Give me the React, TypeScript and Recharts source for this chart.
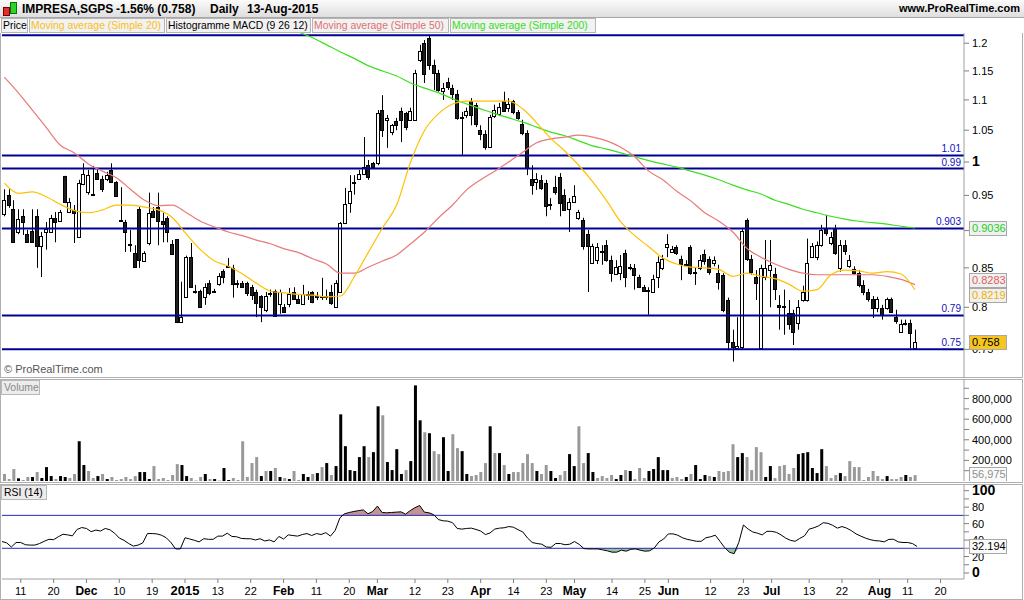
import React from 'react'
import { ComposedChart, Bar, Line, Area, XAxis, YAxis, ReferenceLine, Cell } from 'recharts'

const FONT = '"Liberation Sans", Arial, sans-serif'

// trading sessions on the time axis; the last ten (after 13 Aug) stay empty
const sessionDays: [string, number[]][] = [
  ['2014-11', [5, 6, 7, 10, 11, 12, 13, 14, 17, 18, 19, 20, 21, 24, 25, 26, 27, 28]],
  ['2014-12', [1, 2, 3, 4, 5, 8, 9, 10, 11, 12, 15, 16, 17, 18, 19, 22, 23, 24, 29, 30, 31]],
  ['2015-01', [2, 5, 6, 7, 8, 9, 12, 13, 14, 15, 16, 19, 20, 21, 22, 23, 26, 27, 28, 29, 30]],
  ['2015-02', [2, 3, 4, 5, 6, 9, 10, 11, 12, 13, 16, 17, 18, 19, 20, 23, 24, 25, 26, 27]],
  ['2015-03', [2, 3, 4, 5, 6, 9, 10, 11, 12, 13, 16, 17, 18, 19, 20, 23, 24, 25, 26, 27, 30, 31]],
  ['2015-04', [1, 2, 7, 8, 9, 10, 13, 14, 15, 16, 17, 20, 21, 22, 23, 24, 27, 28, 29, 30]],
  ['2015-05', [4, 5, 6, 7, 8, 11, 12, 13, 14, 15, 18, 19, 20, 21, 22, 25, 26, 27, 28, 29]],
  ['2015-06', [1, 2, 3, 4, 5, 8, 9, 10, 11, 12, 15, 16, 17, 18, 19, 22, 23, 24, 25, 26, 29, 30]],
  ['2015-07', [1, 2, 3, 6, 7, 8, 9, 10, 13, 14, 15, 16, 17, 20, 21, 22, 23, 24, 27, 28, 29, 30, 31]],
  ['2015-08', [3, 4, 5, 6, 7, 10, 11, 12, 13, 14, 17, 18, 19, 20, 21, 24, 25, 26, 27]],
]

const timeTicks: [string, string][] = [
  ['2014-11-11', '11'], ['2014-11-20', '20'], ['2014-12-01', 'Dec'], ['2014-12-10', '10'], ['2014-12-19', '19'],
  ['2015-01-02', '2015'], ['2015-01-13', '13'], ['2015-01-22', '22'], ['2015-02-02', 'Feb'], ['2015-02-11', '11'],
  ['2015-02-20', '20'], ['2015-03-02', 'Mar'], ['2015-03-12', '12'], ['2015-03-23', '23'], ['2015-04-01', 'Apr'],
  ['2015-04-14', '14'], ['2015-04-23', '23'], ['2015-05-04', 'May'], ['2015-05-14', '14'], ['2015-05-25', '25'],
  ['2015-06-01', 'Jun'], ['2015-06-12', '12'], ['2015-06-23', '23'], ['2015-07-01', 'Jul'], ['2015-07-13', '13'],
  ['2015-07-22', '22'], ['2015-08-03', 'Aug'], ['2015-08-11', '11'], ['2015-08-20', '20'],
]

// open, high, low, close
const candles: number[][] = [
  // Nov 2014
  [0.923, 0.959, 0.920, 0.943], [0.951, 0.959, 0.932, 0.936], [0.930, 0.943, 0.883, 0.884], [0.898, 0.930, 0.895, 0.916],
  [0.920, 0.930, 0.894, 0.911], [0.895, 0.901, 0.883, 0.884], [0.899, 0.930, 0.883, 0.884], [0.920, 0.930, 0.850, 0.879],
  [0.880, 0.898, 0.838, 0.893], [0.898, 0.912, 0.874, 0.902], [0.899, 0.922, 0.897, 0.918], [0.918, 0.926, 0.884, 0.913],
  [0.913, 0.929, 0.912, 0.926], [0.979, 0.979, 0.939, 0.940], [0.926, 0.946, 0.925, 0.940], [0.929, 0.936, 0.883, 0.925],
  [0.891, 0.973, 0.890, 0.968], [0.967, 0.998, 0.965, 0.982],
  // Dec
  [0.955, 0.988, 0.951, 0.980], [0.952, 0.994, 0.951, 0.951], [0.983, 0.991, 0.973, 0.974], [0.974, 0.979, 0.955, 0.959],
  [0.974, 0.985, 0.971, 0.980], [0.988, 0.998, 0.970, 0.970], [0.970, 0.971, 0.949, 0.949], [0.915, 0.962, 0.912, 0.913],
  [0.912, 0.915, 0.871, 0.898], [0.882, 0.901, 0.871, 0.880], [0.870, 0.880, 0.852, 0.852], [0.930, 0.933, 0.850, 0.860],
  [0.860, 0.872, 0.858, 0.870], [0.884, 0.954, 0.880, 0.925], [0.928, 0.933, 0.918, 0.919], [0.933, 0.954, 0.880, 0.913],
  [0.913, 0.925, 0.884, 0.909], [0.918, 0.920, 0.884, 0.898], [0.882, 0.887, 0.867, 0.868], [0.888, 0.888, 0.782, 0.782],
  [0.782, 0.832, 0.782, 0.788],
  // Jan 2015
  [0.812, 0.866, 0.812, 0.864], [0.864, 0.883, 0.825, 0.825], [0.820, 0.828, 0.817, 0.819], [0.820, 0.822, 0.800, 0.800],
  [0.813, 0.830, 0.803, 0.825], [0.830, 0.834, 0.815, 0.817], [0.820, 0.823, 0.818, 0.819], [0.829, 0.843, 0.827, 0.839],
  [0.846, 0.848, 0.830, 0.838], [0.851, 0.863, 0.850, 0.852], [0.850, 0.854, 0.812, 0.830], [0.830, 0.834, 0.824, 0.829],
  [0.830, 0.833, 0.824, 0.825], [0.830, 0.832, 0.814, 0.817], [0.825, 0.828, 0.809, 0.815], [0.819, 0.822, 0.788, 0.805],
  [0.814, 0.815, 0.782, 0.800], [0.797, 0.819, 0.794, 0.814], [0.818, 0.822, 0.813, 0.817], [0.820, 0.822, 0.789, 0.789],
  [0.804, 0.822, 0.792, 0.819],
  // Feb
  [0.800, 0.804, 0.794, 0.794], [0.804, 0.824, 0.800, 0.817], [0.819, 0.825, 0.809, 0.810], [0.810, 0.815, 0.804, 0.805],
  [0.804, 0.828, 0.803, 0.817], [0.817, 0.820, 0.809, 0.816], [0.819, 0.820, 0.805, 0.807], [0.814, 0.819, 0.809, 0.813],
  [0.813, 0.837, 0.809, 0.814], [0.813, 0.822, 0.809, 0.814], [0.819, 0.828, 0.803, 0.805], [0.800, 0.834, 0.800, 0.830],
  [0.819, 0.912, 0.818, 0.911], [0.911, 0.961, 0.909, 0.938], [0.938, 0.980, 0.925, 0.956], [0.968, 0.980, 0.951, 0.969],
  [0.974, 0.988, 0.973, 0.982], [0.982, 1.039, 0.980, 0.992], [0.995, 1.003, 0.973, 0.977], [0.998, 1.000, 0.991, 0.992],
  // Mar
  [0.998, 1.083, 0.995, 1.078], [1.083, 1.108, 1.039, 1.050], [1.067, 1.075, 1.022, 1.070], [1.047, 1.060, 1.042, 1.058],
  [1.065, 1.070, 1.050, 1.058], [1.082, 1.087, 1.031, 1.067], [1.078, 1.080, 1.050, 1.055], [1.067, 1.087, 1.065, 1.082],
  [1.067, 1.152, 1.065, 1.147], [1.170, 1.197, 1.166, 1.186], [1.200, 1.206, 1.129, 1.145], [1.210, 1.215, 1.152, 1.161],
  [1.161, 1.170, 1.117, 1.147], [1.147, 1.152, 1.114, 1.117], [1.115, 1.129, 1.100, 1.120], [1.131, 1.138, 1.117, 1.122],
  [1.120, 1.126, 1.100, 1.110], [1.110, 1.117, 1.067, 1.070], [1.072, 1.080, 1.011, 1.071], [1.075, 1.087, 1.070, 1.082],
  [1.098, 1.103, 1.058, 1.075], [1.092, 1.095, 1.055, 1.060],
  // Apr
  [1.050, 1.058, 1.034, 1.044], [1.044, 1.050, 1.019, 1.023], [1.023, 1.075, 1.022, 1.072], [1.073, 1.092, 1.070, 1.083],
  [1.077, 1.095, 1.073, 1.088], [1.098, 1.114, 1.080, 1.082], [1.087, 1.103, 1.080, 1.093], [1.098, 1.100, 1.076, 1.080],
  [1.080, 1.083, 1.067, 1.070], [1.060, 1.067, 1.042, 1.046], [1.046, 1.050, 0.980, 0.992], [0.974, 0.995, 0.951, 0.965],
  [0.970, 0.983, 0.958, 0.974], [0.973, 0.980, 0.958, 0.961], [0.968, 0.973, 0.920, 0.935], [0.937, 0.946, 0.929, 0.935],
  [0.962, 0.979, 0.951, 0.955], [0.977, 0.983, 0.920, 0.939], [0.951, 0.959, 0.929, 0.930], [0.930, 0.946, 0.898, 0.940],
  // May
  [0.940, 0.965, 0.939, 0.949], [0.918, 0.929, 0.915, 0.926], [0.915, 0.918, 0.874, 0.879], [0.895, 0.901, 0.819, 0.879],
  [0.856, 0.882, 0.855, 0.879], [0.860, 0.883, 0.855, 0.877], [0.871, 0.880, 0.854, 0.872], [0.880, 0.887, 0.858, 0.860],
  [0.860, 0.866, 0.832, 0.843], [0.842, 0.860, 0.841, 0.851], [0.843, 0.867, 0.834, 0.852], [0.870, 0.874, 0.825, 0.838],
  [0.851, 0.855, 0.847, 0.850], [0.850, 0.855, 0.822, 0.841], [0.838, 0.841, 0.824, 0.825], [0.825, 0.828, 0.819, 0.820],
  [0.821, 0.825, 0.791, 0.820], [0.820, 0.841, 0.819, 0.836], [0.839, 0.865, 0.824, 0.858], [0.850, 0.867, 0.847, 0.862],
  // Jun
  [0.878, 0.895, 0.864, 0.882], [0.871, 0.879, 0.870, 0.875], [0.878, 0.880, 0.867, 0.870], [0.862, 0.866, 0.834, 0.855],
  [0.855, 0.860, 0.852, 0.854], [0.878, 0.880, 0.841, 0.843], [0.845, 0.850, 0.828, 0.844], [0.850, 0.867, 0.847, 0.860],
  [0.868, 0.874, 0.854, 0.859], [0.862, 0.865, 0.841, 0.845], [0.856, 0.865, 0.852, 0.860], [0.843, 0.854, 0.822, 0.832],
  [0.841, 0.843, 0.794, 0.797], [0.809, 0.812, 0.749, 0.758], [0.758, 0.773, 0.736, 0.752], [0.752, 0.788, 0.750, 0.754],
  [0.752, 0.902, 0.750, 0.899], [0.915, 0.917, 0.859, 0.862], [0.862, 0.867, 0.841, 0.845], [0.838, 0.847, 0.809, 0.830],
  [0.752, 0.854, 0.750, 0.850], [0.838, 0.887, 0.834, 0.850],
  // Jul
  [0.847, 0.887, 0.800, 0.854], [0.842, 0.850, 0.809, 0.823], [0.803, 0.815, 0.773, 0.800], [0.801, 0.822, 0.767, 0.800],
  [0.793, 0.809, 0.773, 0.780], [0.793, 0.797, 0.755, 0.770], [0.780, 0.809, 0.773, 0.800], [0.809, 0.827, 0.807, 0.819],
  [0.809, 0.889, 0.807, 0.856], [0.864, 0.883, 0.863, 0.879], [0.864, 0.885, 0.860, 0.880], [0.880, 0.908, 0.878, 0.901],
  [0.902, 0.922, 0.893, 0.897], [0.883, 0.898, 0.880, 0.891], [0.904, 0.908, 0.867, 0.870], [0.850, 0.887, 0.845, 0.880],
  [0.880, 0.887, 0.867, 0.872], [0.852, 0.867, 0.850, 0.860], [0.848, 0.852, 0.841, 0.843], [0.843, 0.847, 0.825, 0.828],
  [0.828, 0.834, 0.815, 0.819], [0.819, 0.823, 0.807, 0.810], [0.810, 0.814, 0.787, 0.799],
  // Aug
  [0.799, 0.813, 0.794, 0.810], [0.799, 0.803, 0.785, 0.791], [0.799, 0.812, 0.797, 0.810], [0.810, 0.812, 0.793, 0.794],
  [0.788, 0.797, 0.780, 0.783], [0.771, 0.785, 0.770, 0.780], [0.780, 0.785, 0.778, 0.781], [0.781, 0.785, 0.751, 0.769],
  [0.751, 0.773, 0.750, 0.758],
]

const volumes = [
  68000, 19000, 116000, 26000, 10000, 39000, 39000, 87000, 29000, 135000,
  48000, 19000, 48000, 39000, 29000, 68000, 386000, 155000, 97000, 29000,
  48000, 68000, 19000, 39000, 10000, 19000, 39000, 19000, 48000, 87000,
  87000, 19000, 145000, 19000, 29000, 10000, 58000, 164000, 155000, 48000,
  29000, 5000, 39000, 68000, 19000, 19000, 5000, 126000, 10000, 29000,
  10000, 386000, 39000, 174000, 232000, 48000, 97000, 97000, 126000, 39000,
  29000, 19000, 97000, 10000, 68000, 39000, 68000, 77000, 135000, 174000,
  58000, 145000, 647000, 338000, 106000, 97000, 232000, 338000, 232000, 280000,
  725000, 638000, 184000, 106000, 309000, 68000, 106000, 193000, 928000, 589000,
  473000, 464000, 290000, 261000, 425000, 97000, 454000, 319000, 290000, 68000,
  48000, 58000, 87000, 174000, 531000, 271000, 271000, 155000, 68000, 87000,
  87000, 174000, 261000, 174000, 97000, 68000, 155000, 97000, 29000, 58000,
  97000, 261000, 145000, 531000, 174000, 271000, 87000, 29000, 48000, 29000,
  58000, 19000, 58000, 106000, 97000, 19000, 126000, 29000, 97000, 116000,
  232000, 106000, 106000, 29000, 39000, 19000, 39000, 68000, 155000, 19000,
  58000, 48000, 39000, 97000, 87000, 97000, 357000, 232000, 271000, 232000,
  106000, 329000, 280000, 39000, 145000, 29000, 145000, 155000, 68000, 126000,
  261000, 271000, 280000, 126000, 77000, 309000, 145000, 29000, 58000, 77000,
  48000, 193000, 135000, 135000, 10000, 39000, 97000, 48000, 19000, 48000,
  19000, 19000, 39000, 58000, 39000, 56975,
]

// b = black bar, g = grey bar
const volumeShade =
  'gggbggbgbb' + 'bgbbggbbgg' + 'bgbggggggb' + 'bbggggggbb' + 'gggbgbgbbg' +
  'gggggbgbgb' + 'gbggbbgbgb' + 'gbbbbbbbgb' + 'bgbbbbgbbb' + 'gbggbbggbb' +
  'ggggbgbgbg' + 'ggggbggbbg' + 'gbbggbbggg' + 'gbbgbgggbb' + 'bbbgggbgbb' +
  'bgbggggbbg' + 'gggbbggggg' + 'bbbbbbgggb' + 'gggggggggb' + 'gggbgg'

const rsi14 = [
  38.2, 36.6, 31.6, 37.0, 37.0, 34.3, 33.9, 33.9, 35.8, 38.5,
  40.9, 40.5, 44.0, 47.1, 46.3, 45.1, 52.9, 55.2, 54.1, 50.2,
  52.1, 51.0, 54.1, 52.5, 48.3, 42.4, 39.7, 35.8, 32.7, 33.9,
  36.6, 47.9, 47.9, 47.5, 45.9, 42.8, 37.0, 29.2, 29.2, 42.8,
  41.3, 39.7, 37.8, 41.6, 40.9, 40.9, 44.8, 44.8, 48.3, 44.4,
  44.0, 42.0, 41.6, 41.6, 40.1, 41.6, 38.9, 40.1, 37.8, 44.4,
  41.3, 46.3, 45.5, 44.8, 46.7, 47.9, 45.5, 47.9, 46.7, 49.0,
  44.8, 51.7, 66.9, 71.9, 73.5, 74.7, 75.8, 76.6, 71.9, 74.7,
  81.3, 73.5, 73.1, 73.5, 73.9, 74.3, 71.5, 75.8, 79.3, 82.0,
  73.9, 73.1, 70.8, 64.9, 63.4, 63.0, 61.1, 54.1, 53.3, 54.1,
  54.5, 52.9, 51.0, 46.7, 48.6, 53.3, 54.5, 54.9, 56.4, 55.6,
  52.5, 49.8, 42.4, 37.0, 35.8, 35.0, 31.6, 31.2, 35.8, 35.8,
  34.3, 35.0, 38.2, 34.7, 29.6, 29.2, 29.2, 29.2, 28.1, 26.9,
  25.3, 25.3, 27.7, 26.5, 28.8, 29.2, 27.7, 26.5, 26.9, 30.4,
  37.8, 41.3, 47.5, 47.5, 45.9, 42.8, 40.9, 39.7, 38.5, 38.5,
  42.8, 44.0, 45.9, 38.5, 30.8, 25.3, 23.4, 37.0, 58.3, 53.3,
  49.8, 48.3, 46.3, 50.6, 50.6, 49.4, 46.3, 42.4, 39.7, 38.5,
  42.0, 45.1, 53.3, 54.9, 57.2, 61.1, 60.3, 58.0, 54.5, 56.4,
  54.5, 51.4, 47.5, 44.8, 42.4, 40.5, 39.3, 38.9, 37.8, 40.9,
  40.9, 37.8, 37.0, 37.0, 35.8, 32.194,
]

// moving averages, read at every third session
const sma20 = [
  0.968, 0.953, 0.955, 0.948, 0.937, 0.928, 0.925, 0.929, 0.936, 0.936,
  0.933, 0.929, 0.918, 0.895, 0.874, 0.859, 0.852, 0.842, 0.830, 0.820,
  0.818, 0.816, 0.815, 0.813, 0.814, 0.839, 0.871, 0.904, 0.936, 1.000,
  1.050, 1.077, 1.093, 1.098, 1.098, 1.098, 1.098, 1.085, 1.062, 1.037,
  1.017, 0.995, 0.970, 0.942, 0.912, 0.893, 0.878, 0.863, 0.855, 0.851,
  0.850, 0.848, 0.839, 0.843, 0.839, 0.836, 0.829, 0.820, 0.822, 0.841,
  0.847, 0.846, 0.843, 0.845, 0.842, 0.8219,
]
const sma50 = [
  1.139, 1.112, 1.083, 1.054, 1.026, 1.014, 0.997, 0.986, 0.976, 0.959,
  0.943, 0.935, 0.936, 0.925, 0.913, 0.905, 0.898, 0.893, 0.887, 0.882,
  0.875, 0.870, 0.862, 0.855, 0.843, 0.843, 0.851, 0.859, 0.867, 0.882,
  0.898, 0.918, 0.936, 0.958, 0.973, 0.986, 1.000, 1.015, 1.030, 1.036,
  1.039, 1.042, 1.039, 1.033, 1.023, 1.008, 0.986, 0.973, 0.956, 0.942,
  0.925, 0.913, 0.898, 0.876, 0.864, 0.855, 0.848, 0.843, 0.841, 0.841,
  0.841, 0.841, 0.841, 0.839, 0.835, 0.8283,
]
const sma200 = [
  null, null, null, null, null, null, null, null, null, null,
  null, null, null, null, null, null, null, null, null, 1.246,
  1.232, 1.221, 1.210, 1.197, 1.184, 1.172, 1.159, 1.150, 1.141, 1.129,
  1.120, 1.112, 1.102, 1.093, 1.085, 1.077, 1.070, 1.063, 1.055, 1.047,
  1.041, 1.033, 1.025, 1.020, 1.014, 1.008, 1.002, 0.997, 0.992, 0.986,
  0.980, 0.973, 0.965, 0.958, 0.952, 0.943, 0.937, 0.930, 0.925, 0.920,
  0.916, 0.913, 0.911, 0.909, 0.906, 0.9036,
]

const priceLevels = [
  { value: 1.215, label: '' },
  { value: 1.01, label: '1.01' },
  { value: 0.99, label: '0.99' },
  { value: 0.903, label: '0.903' },
  { value: 0.79, label: '0.79' },
  { value: 0.75, label: '0.75' },
]

const priceTicks = [0.75, 0.8, 0.85, 0.9, 0.95, 1, 1.05, 1.1, 1.15, 1.2]
const volumeTicks = [100000, 200000, 300000, 400000, 500000, 600000, 700000, 800000, 900000]
const rsiTicks = [0, 10, 20, 30, 40, 50, 60, 70, 80, 90, 100]

const PRICE_DOMAIN: [number, number] = [0.7177, 1.219]
const VOLUME_DOMAIN: [number, number] = [0, 990000]
const RSI_DOMAIN: [number, number] = [-7.3, 108.1]

const dates = sessionDays.flatMap(([m, days]) => days.map(d => `${m}-${String(d).padStart(2, '0')}`))
const tickLabel = new Map(timeTicks)

const rows = dates.map((date, i) => {
  const k = candles[i]
  const s = i % 3 === 0 ? i / 3 : -1
  const r = rsi14[i]
  return {
    date,
    o: k ? k[0] : null,
    h: k ? k[1] : null,
    l: k ? k[2] : null,
    c: k ? k[3] : null,
    v: volumes[i] ?? null,
    shade: volumeShade[i],
    rsi: r ?? null,
    rsiHigh: r != null ? [70, Math.max(70, r)] : null,
    rsiLow: r != null ? [Math.min(30, r), 30] : null,
    sma20: s >= 0 ? sma20[s] ?? null : null,
    sma50: s >= 0 ? sma50[s] ?? null : null,
    sma200: s >= 0 ? sma200[s] ?? null : null,
  }
})

const lastClose = candles[candles.length - 1][3]
const lastVolume = volumes[volumes.length - 1]
const lastRsi = rsi14[rsi14.length - 1]

const wickRange = (r: any) => (r.o == null ? null : [r.l, r.h])
const bodyRange = (r: any) => (r.o == null ? null : [Math.min(r.o, r.c), Math.max(r.o, r.c)])

const Wick = (p: any) => {
  if (p.x == null || p.height == null) return null
  const cx = Math.round(p.x + p.width / 2) + 0.5
  const top = Math.min(p.y, p.y + p.height)
  return <line x1={cx} x2={cx} y1={top} y2={top + Math.abs(p.height)} stroke="#000" strokeWidth={1} />
}

const Body = (p: any) => {
  if (p.x == null || p.height == null || !p.payload) return null
  const up = p.payload.c >= p.payload.o
  const top = Math.round(Math.min(p.y, p.y + p.height)) + 0.5
  const h = Math.max(Math.round(Math.abs(p.height)), 1)
  return <rect x={Math.round(p.x) + 0.5} y={top} width={p.width - 1} height={h} fill={up ? '#fff' : '#1e1e1e'} stroke="#000" strokeWidth={1} />
}

const AxisText = ({ x, y, text, big }: any) => (
  <text x={x} y={y} dy={4} fontSize={big ? 14 : 11} fontWeight={big ? 'bold' : 'normal'} fontFamily={FONT} fill="#000">
    {text}
  </text>
)

// 0.9 sits under the 0.9036 tag in the original, so only its tick mark shows
const PriceTick = (p: any) =>
  p.payload.value === 0.9 ? null : <AxisText x={p.x} y={p.y} text={String(p.payload.value)} big={p.payload.value === 1} />

const VolumeTick = (p: any) =>
  p.payload.value % 200000 === 0 ? <AxisText x={p.x} y={p.y} text={p.payload.value.toLocaleString('en-US')} /> : null

const RsiTick = (p: any) => {
  const v = p.payload.value
  if (v % 20 !== 0) return null
  return <AxisText x={p.x} y={p.y} text={String(v)} big={v === 0 || v === 100} />
}

const TimeTick = (p: any) => {
  const label = tickLabel.get(p.payload.value) ?? ''
  const strong = !/^\d{1,2}$/.test(label)
  return (
    <text x={p.x} y={p.y + 10} textAnchor="middle" fontFamily={FONT} fill="#000"
      fontSize={label === '2015' ? 13 : strong ? 12 : 11} fontWeight={strong ? 'bold' : 'normal'}>
      {label}
    </text>
  )
}

const tag = (text: string, color: string, bg: string, dy = 0) => (p: any) => {
  const vb = p.viewBox
  if (!vb) return null
  const x = vb.x + vb.width + 5
  const y = Math.round(vb.y + dy)
  return (
    <g>
      <rect x={x + 0.5} y={y - 6.5} width={37} height={14} fill={bg} stroke="#a8a8a8" />
      <text x={x + 3} y={y + 4} fontSize={11} fontFamily={FONT} fill={color}>{text}</text>
    </g>
  )
}

const levelLabel = (text: string) => (p: any) => {
  const vb = p.viewBox
  if (!vb || !text) return null
  return (
    <text x={vb.x + vb.width - 3} y={vb.y - 3} textAnchor="end" fontSize={10} fontFamily={FONT} fill="#1010c0">
      {text}
    </text>
  )
}

const axisProps = {
  orientation: 'right' as const,
  width: 60,
  tickSize: 5,
  tickMargin: 3,
  interval: 0 as const,
  axisLine: { stroke: '#a0a0a0' },
  tickLine: { stroke: '#808080' },
}

// transparent chart laid over a panel so that value tags sit above the axis texts
const TagLayer = ({ top, height, domain, log, tags }: any) => (
  <div style={{ position: 'absolute', left: 0, top, pointerEvents: 'none' }}>
    <ComposedChart width={1024} height={height} data={rows} margin={{ top: 0, right: 60, bottom: 0, left: 2 }}>
      <XAxis dataKey="date" hide />
      <YAxis hide scale={log ? 'log' : 'auto'} domain={domain} allowDataOverflow />
      {tags.map((t: any) => (
        <ReferenceLine key={t.text} y={t.value} stroke="none" ifOverflow="visible" label={tag(t.text, t.color, t.bg, t.dy)} />
      ))}
    </ComposedChart>
  </div>
)

const legendBox = (left: number, width: number, text: string, color: string) => (
  <div style={{
    position: 'absolute', left, top: 18, width, height: 15, background: '#f2f2f2',
    border: '1px solid #b4b4b4', boxSizing: 'border-box', color, fontSize: 10.4, lineHeight: '13px',
    paddingLeft: 1, whiteSpace: 'nowrap', overflow: 'hidden',
  }}>{text}</div>
)

const paneTitle = (top: number, width: number, text: string, color: string) => (
  <div style={{
    position: 'absolute', left: 1, top, width, height: 15, background: '#ececec', border: '1px solid #b8b8b8',
    boxSizing: 'border-box', fontSize: 10.4, lineHeight: '13px', color, paddingLeft: 2, whiteSpace: 'nowrap',
  }}>{text}</div>
)

export default function App() {
  return (
    <div style={{ position: 'fixed', left: 0, top: 0, width: 1024, height: 600, background: '#fff', fontFamily: FONT, overflow: 'hidden' }}>
      {/* title bar */}
      <div style={{ position: 'absolute', left: 0, top: 0, width: 1024, height: 17, background: 'linear-gradient(#fbfbfb, #dedede)', borderBottom: '1px solid #a8a8a8' }}>
        <div style={{ position: 'absolute', left: 3, top: 7, width: 5, height: 7, background: '#e03030', border: '1px solid #700' }} />
        <div style={{ position: 'absolute', left: 10, top: 2, width: 5, height: 10, background: '#30d030', border: '1px solid #070' }} />
        <span style={{ position: 'absolute', left: 22, top: 2, fontSize: 12, fontWeight: 'bold' }}>IMPRESA,SGPS</span>
        <span style={{ position: 'absolute', left: 116, top: 2, fontSize: 12, fontWeight: 'bold' }}>-1.56% (0.758)</span>
        <span style={{ position: 'absolute', left: 210, top: 2, fontSize: 12, fontWeight: 'bold' }}>Daily</span>
        <span style={{ position: 'absolute', left: 247, top: 2, fontSize: 12, fontWeight: 'bold' }}>13-Aug-2015</span>
        <span style={{ position: 'absolute', right: 4, top: 2, fontSize: 11, fontWeight: 'bold' }}>www.ProRealTime.com</span>
      </div>

      {legendBox(1, 27, 'Price', '#000')}
      {legendBox(29, 136, 'Moving average (Simple 20)', '#f8c020')}
      {legendBox(166, 145, 'Histogramme MACD (9 26 12)', '#000')}
      {legendBox(312, 137, 'Moving average (Simple 50)', '#e07070')}
      {legendBox(450, 146, 'Moving average (Simple 200)', '#30e020')}

      {/* panel frames */}
      <div style={{ position: 'absolute', left: 0, top: 33, width: 1023, height: 345, borderLeft: '1px solid #b0b0b0', borderRight: '1px solid #b0b0b0', borderBottom: '1px solid #b0b0b0', boxSizing: 'border-box' }} />
      <div style={{ position: 'absolute', left: 0, top: 379, width: 1023, height: 104, border: '1px solid #b0b0b0', boxSizing: 'border-box' }} />
      <div style={{ position: 'absolute', left: 0, top: 484, width: 1023, height: 116, border: '1px solid #b0b0b0', boxSizing: 'border-box' }} />

      <div style={{ position: 'absolute', left: 0, top: 33 }}>
        <ComposedChart width={1024} height={345} data={rows} margin={{ top: 0, right: 0, bottom: 0, left: 2 }} barGap={-4}>
          <XAxis dataKey="date" hide />
          <YAxis {...axisProps} scale="log" domain={PRICE_DOMAIN} allowDataOverflow ticks={priceTicks} tick={<PriceTick />} />
          {priceLevels.map(l => (
            <ReferenceLine key={l.value} y={l.value} stroke="#000096" strokeWidth={2} label={levelLabel(l.label)} />
          ))}
          <Bar dataKey={wickRange} barSize={4} shape={<Wick />} isAnimationActive={false} />
          <Bar dataKey={bodyRange} barSize={4} shape={<Body />} isAnimationActive={false} />
          <Line dataKey="sma200" type="monotone" stroke="#3ce020" strokeWidth={1.2} dot={false} activeDot={false} connectNulls isAnimationActive={false} />
          <Line dataKey="sma50" type="monotone" stroke="#e87a7a" strokeWidth={1.2} dot={false} activeDot={false} connectNulls isAnimationActive={false} />
          <Line dataKey="sma20" type="monotone" stroke="#ffc000" strokeWidth={1.2} dot={false} activeDot={false} connectNulls isAnimationActive={false} />
        </ComposedChart>
      </div>
      <TagLayer top={33} height={345} domain={PRICE_DOMAIN} log tags={[
        { value: sma200[sma200.length - 1], text: '0.9036', color: '#20d020', bg: '#f0f0f0', dy: 0 },
        { value: sma50[sma50.length - 1], text: '0.8283', color: '#e06060', bg: '#f0f0f0', dy: -5 },
        { value: sma20[sma20.length - 1], text: '0.8219', color: '#f0b000', bg: '#f0f0f0', dy: 5 },
        { value: lastClose, text: lastClose.toFixed(3), color: '#000', bg: '#f7c520', dy: 0 },
      ]} />
      <div style={{ position: 'absolute', left: 4, top: 363, fontSize: 11, color: '#555' }}>© ProRealTime.com</div>

      <div style={{ position: 'absolute', left: 0, top: 379 }}>
        <ComposedChart width={1024} height={102} data={rows} margin={{ top: 0, right: 0, bottom: 0, left: 2 }}>
          <XAxis dataKey="date" hide />
          <YAxis {...axisProps} domain={VOLUME_DOMAIN} allowDataOverflow ticks={volumeTicks} tick={<VolumeTick />} />
          <Bar dataKey="v" barSize={3} isAnimationActive={false}>
            {rows.map(r => <Cell key={r.date} fill={r.shade === 'b' ? '#000' : '#999'} />)}
          </Bar>
        </ComposedChart>
      </div>
      <TagLayer top={379} height={102} domain={VOLUME_DOMAIN} tags={[
        { value: lastVolume, text: lastVolume.toLocaleString('en-US'), color: '#909090', bg: '#fafafa', dy: -1 },
      ]} />
      {paneTitle(380, 39, 'Volume', '#888')}

      {/* the RSI chart starts 4px above its pane so the bold "100" is not clipped */}
      <div style={{ position: 'absolute', left: 0, top: 480 }}>
        <ComposedChart width={1024} height={120} data={rows} margin={{ top: 4, right: 0, bottom: 0, left: 2 }}>
          <XAxis dataKey="date" ticks={timeTicks.map(t => t[0])} interval={0} height={21} tickSize={4} tickMargin={2}
            axisLine={{ stroke: '#a0a0a0' }} tickLine={{ stroke: '#808080' }} tick={<TimeTick />} />
          <YAxis {...axisProps} domain={RSI_DOMAIN} allowDataOverflow ticks={rsiTicks} tick={<RsiTick />} />
          <Area dataKey="rsiHigh" type="linear" stroke="none" fill="#c49494" fillOpacity={1} isAnimationActive={false} />
          <Area dataKey="rsiLow" type="linear" stroke="none" fill="#98c898" fillOpacity={1} isAnimationActive={false} />
          <ReferenceLine y={70} stroke="#2828b8" />
          <ReferenceLine y={30} stroke="#2828b8" />
          <Line dataKey="rsi" type="linear" stroke="#000" strokeWidth={1} dot={false} activeDot={false} isAnimationActive={false} />
        </ComposedChart>
      </div>
      <TagLayer top={484} height={95} domain={RSI_DOMAIN} tags={[
        { value: lastRsi, text: lastRsi.toFixed(3), color: '#000', bg: '#fafafa', dy: 0 },
      ]} />
      {paneTitle(485, 46, 'RSI (14)', '#000')}
    </div>
  )
}
